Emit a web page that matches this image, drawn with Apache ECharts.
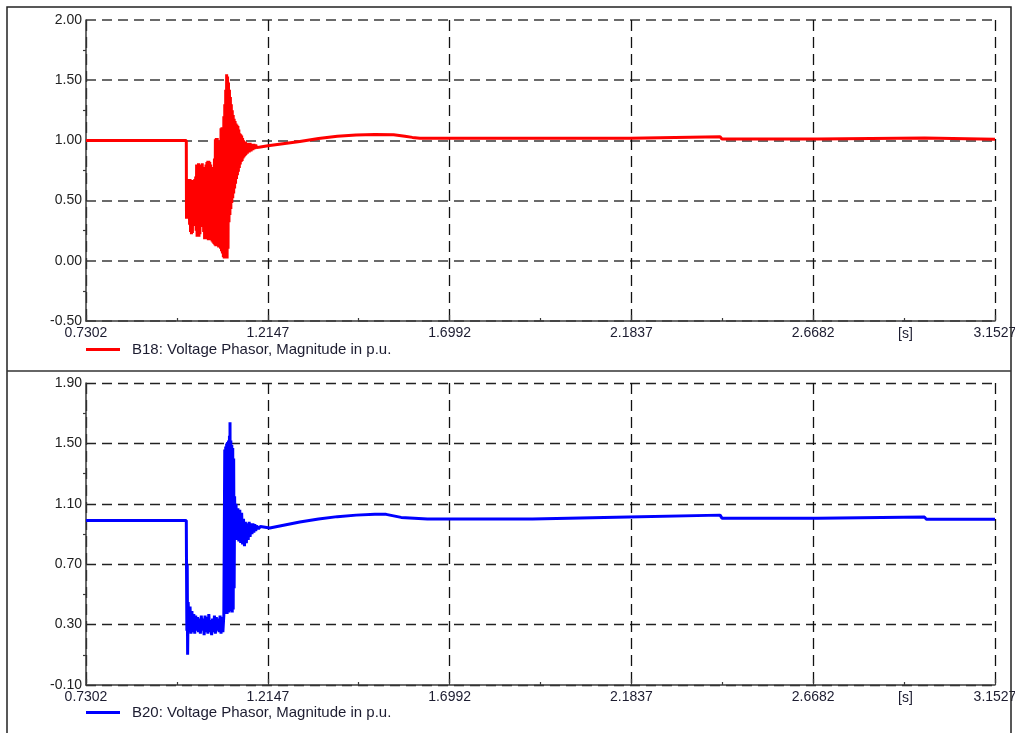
<!DOCTYPE html>
<html>
<head>
<meta charset="utf-8">
<script src="https://cdn.jsdelivr.net/npm/echarts@6/dist/echarts.min.js"></script>
<style>
  html, body { margin: 0; padding: 0; background: #ffffff; }
  #chart { width: 1015px; height: 733px; }
</style>
</head>
<body>
<div id="chart"></div>
<script>
// Time axis ticks [s] shared by both panels
const timeTicks = [0.7302, 1.2147, 1.6992, 2.1837, 2.6682, 3.1527];
// Voltage axis ticks [p.u.]
const b18Ticks = [-0.50, 0.00, 0.50, 1.00, 1.50, 2.00];
const b20Ticks = [-0.10, 0.30, 0.70, 1.10, 1.50, 1.90];

const b18Name = 'B18: Voltage Phasor, Magnitude in p.u.';
const b20Name = 'B20: Voltage Phasor, Magnitude in p.u.';

// B18 voltage magnitude: [time s, p.u.]
const b18 = [
  [0.7302, 1.00], [0.9975, 1.00],
  [0.9980, 0.35],
  [1.00000, 0.68], [1.00125, 0.40], [1.00250, 0.68], [1.00375, 0.35], [1.00500, 0.67],
  [1.00625, 0.30], [1.00750, 0.68], [1.00875, 0.24], [1.01000, 0.67], [1.01125, 0.22],
  [1.01250, 0.66], [1.01375, 0.23], [1.01500, 0.66], [1.01625, 0.30], [1.01750, 0.67],
  [1.01875, 0.31], [1.02000, 0.68], [1.02125, 0.29], [1.02250, 0.70], [1.02375, 0.25],
  [1.02500, 0.80], [1.02625, 0.20], [1.02750, 0.80], [1.02875, 0.21], [1.03000, 0.81],
  [1.03125, 0.20], [1.03250, 0.80], [1.03375, 0.22], [1.03500, 0.79], [1.03625, 0.29],
  [1.03750, 0.80], [1.03875, 0.30], [1.04000, 0.81], [1.04125, 0.28], [1.04250, 0.78],
  [1.04375, 0.24], [1.04500, 0.74], [1.04625, 0.18], [1.04750, 0.75], [1.04875, 0.18],
  [1.05000, 0.80], [1.05125, 0.19], [1.05250, 0.82], [1.05375, 0.18], [1.05500, 0.83],
  [1.05625, 0.17], [1.05750, 0.83], [1.05875, 0.17], [1.06000, 0.82], [1.06125, 0.17],
  [1.06250, 0.80], [1.06375, 0.17], [1.06500, 0.76], [1.06625, 0.16], [1.06750, 0.75],
  [1.06875, 0.15], [1.07000, 0.78], [1.07125, 0.14], [1.07250, 0.85], [1.07375, 0.13],
  [1.07500, 1.01], [1.07625, 0.12], [1.07750, 1.02], [1.07875, 0.12], [1.08000, 1.02],
  [1.08125, 0.12], [1.08250, 0.98], [1.08375, 0.11], [1.08500, 0.96], [1.08625, 0.11],
  [1.08750, 1.00], [1.08875, 0.10], [1.09000, 1.10], [1.09125, 0.08], [1.09250, 1.11],
  [1.09375, 0.06], [1.09500, 1.11], [1.09625, 0.03], [1.09750, 1.20], [1.09875, 0.02],
  [1.10000, 1.30], [1.10125, 0.02], [1.10250, 1.42], [1.10375, 0.02], [1.10500, 1.55],
  [1.10625, 0.02], [1.10750, 1.53], [1.10875, 0.10], [1.11000, 1.48], [1.11125, 0.32],
  [1.11250, 1.42], [1.11375, 0.38], [1.11500, 1.36], [1.11625, 0.43], [1.11750, 1.30],
  [1.11875, 0.48], [1.12000, 1.25], [1.12125, 0.52], [1.12250, 1.21], [1.12375, 0.56],
  [1.12500, 1.18], [1.12625, 0.60], [1.12750, 1.16], [1.12875, 0.64], [1.13000, 1.14],
  [1.13125, 0.68], [1.13250, 1.13], [1.13375, 0.71], [1.13500, 1.12], [1.13625, 0.74],
  [1.13750, 1.09], [1.13875, 0.77], [1.14000, 1.06], [1.14125, 0.80], [1.14250, 1.05],
  [1.14375, 0.82], [1.14500, 1.04], [1.14625, 0.83], [1.14750, 1.02], [1.14875, 0.85],
  [1.15000, 1.00], [1.15125, 0.86], [1.15250, 0.99], [1.15375, 0.87], [1.15500, 0.99],
  [1.15625, 0.88], [1.15750, 0.98], [1.16000, 0.89], [1.16250, 0.98], [1.16500, 0.90],
  [1.16750, 0.98], [1.17000, 0.91], [1.17250, 0.97], [1.17500, 0.92], [1.17750, 0.97],
  [1.18000, 0.93], [1.18250, 0.965], [1.18500, 0.94], [1.19000, 0.955], [1.19500, 0.945],
  [1.2000, 0.95],
  [1.2150, 0.955], [1.2500, 0.97], [1.3000, 0.99], [1.3500, 1.015], [1.4000, 1.035],
  [1.4500, 1.045], [1.5000, 1.05], [1.5500, 1.047], [1.5800, 1.035], [1.6000, 1.025],
  [1.6200, 1.018], [2.1800, 1.018], [2.1850, 1.03], [2.4200, 1.03], [2.4250, 1.012],
  [2.6800, 1.012], [2.6850, 1.02], [2.9650, 1.02], [2.9700, 1.01], [3.1527, 1.01]
];

// B20 voltage magnitude: [time s, p.u.]
const b20 = [
  [0.7302, 0.99], [0.9975, 0.99],
  [0.9980, 0.72], [0.9990, 0.26], [1.0000, 0.70], [1.0010, 0.10], [1.0025, 0.45],
  [1.0050, 0.25], [1.0075, 0.42], [1.0100, 0.24], [1.0125, 0.39], [1.0150, 0.25],
  [1.0175, 0.37], [1.0200, 0.24], [1.0225, 0.36], [1.0250, 0.26], [1.0275, 0.35],
  [1.0300, 0.25], [1.0325, 0.34], [1.0350, 0.24], [1.0375, 0.36], [1.0400, 0.26],
  [1.0425, 0.34], [1.0450, 0.23], [1.0475, 0.36], [1.0500, 0.25], [1.0525, 0.35],
  [1.0550, 0.24], [1.0575, 0.37], [1.0600, 0.25], [1.0625, 0.33], [1.0650, 0.23],
  [1.0675, 0.34], [1.0700, 0.25], [1.0725, 0.36], [1.0750, 0.24], [1.0775, 0.35],
  [1.0800, 0.26], [1.0825, 0.34], [1.0850, 0.25], [1.0875, 0.36], [1.0900, 0.24],
  [1.0925, 0.35], [1.0950, 0.25], [1.0975, 0.36],
  [1.09875, 0.36], [1.10000, 1.46], [1.10125, 0.37], [1.10250, 1.48], [1.10375, 0.38],
  [1.10500, 1.50], [1.10625, 0.37], [1.10750, 1.51], [1.10875, 0.38], [1.11000, 1.52],
  [1.11125, 0.38], [1.11250, 1.55], [1.11375, 0.39], [1.11400, 1.64], [1.11500, 0.40],
  [1.11625, 1.52], [1.11750, 0.39], [1.11875, 1.49], [1.12000, 0.38], [1.12125, 1.47],
  [1.12250, 0.40], [1.12375, 1.40], [1.12500, 0.54], [1.12625, 1.15], [1.12750, 0.92],
  [1.1300, 1.10], [1.1325, 0.86], [1.1350, 1.07], [1.1375, 0.85], [1.1400, 1.06],
  [1.1425, 0.84], [1.1450, 1.04], [1.1475, 0.83], [1.1500, 1.00], [1.1525, 0.82],
  [1.1550, 0.98], [1.1575, 0.84], [1.1600, 0.97], [1.1625, 0.86], [1.1650, 0.98],
  [1.1675, 0.88], [1.1700, 0.97], [1.1725, 0.90], [1.1750, 0.97], [1.1775, 0.91],
  [1.1800, 0.965], [1.1825, 0.92], [1.1850, 0.955], [1.1900, 0.935], [1.1950, 0.95],
  [1.2000, 0.94],
  [1.2200, 0.94], [1.2500, 0.955], [1.3000, 0.98], [1.3500, 1.00], [1.4000, 1.015],
  [1.4500, 1.025], [1.5000, 1.03], [1.5300, 1.03], [1.5700, 1.01], [1.6400, 1.00],
  [1.9200, 1.00], [1.9250, 1.013], [2.1750, 1.013], [2.1800, 1.025], [2.4200, 1.025],
  [2.4250, 1.005], [2.6800, 1.005], [2.6850, 1.012], [2.9650, 1.012], [2.9700, 0.997],
  [3.1527, 0.997]
];

const FONT = 'Liberation Sans, Arial, sans-serif';
const step = (t) => Math.round((t[1] - t[0]) * 1e4) / 1e4;

function timeAxis(gridIndex) {
  return {
    type: 'value',
    gridIndex: gridIndex,
    min: timeTicks[0],
    max: timeTicks[timeTicks.length - 1],
    interval: step(timeTicks),
    name: '[s]',
    nameLocation: 'end',
    nameGap: -97,
    nameMoveOverlap: false,
    nameTextStyle: { color: '#1c1c30', fontFamily: FONT, fontSize: 14, verticalAlign: 'top', padding: [6, 0, 0, 0] },
    axisLine: { show: true, onZero: false, lineStyle: { color: '#3a3a3a', width: 1.5 } },
    axisTick: { show: true, inside: true, length: 6, lineStyle: { color: '#3a3a3a', width: 1.2 } },
    minorTick: { show: true, splitNumber: 2, length: 3, lineStyle: { color: '#3a3a3a', width: 1.2 } },
    axisLabel: {
      show: true, margin: 5, color: '#1c1c30', fontFamily: FONT, fontSize: 14,
      showMinLabel: true, showMaxLabel: true, hideOverlap: false,
      formatter: (v) => v.toFixed(4)
    },
    splitLine: { show: true, lineStyle: { color: '#111111', width: 1.3, type: [11, 6] } },
    minorSplitLine: { show: false }
  };
}

function voltAxis(gridIndex, ticks, gridColor, gridWidth) {
  return {
    type: 'value',
    gridIndex: gridIndex,
    min: ticks[0],
    max: ticks[ticks.length - 1],
    interval: Math.round((ticks[1] - ticks[0]) * 100) / 100,
    axisLine: { show: true, onZero: false, lineStyle: { color: '#3a3a3a', width: 1.5 } },
    axisTick: { show: false },
    minorTick: { show: true, splitNumber: 2, length: 3, lineStyle: { color: '#3a3a3a', width: 1.2 } },
    axisLabel: {
      show: true, margin: 4, color: '#222222', fontFamily: FONT, fontSize: 14,
      showMinLabel: true, showMaxLabel: true,
      formatter: (v) => v.toFixed(2)
    },
    splitLine: { show: true, lineStyle: { color: gridColor, width: gridWidth, type: [10, 6] } },
    minorSplitLine: { show: false }
  };
}

function legendFor(name, top) {
  return {
    data: [name],
    left: 86,
    top: top,
    orient: 'horizontal',
    icon: 'rect',
    itemWidth: 34,
    itemHeight: 3,
    padding: 0,
    selectedMode: false,
    textStyle: { color: '#1c1c30', fontFamily: FONT, fontSize: 15, padding: [0, 0, 0, 7] }
  };
}

const chart = echarts.init(document.getElementById('chart'), null, { renderer: 'canvas' });
chart.setOption({
  animation: false,
  backgroundColor: '#ffffff',
  grid: [
    { left: 86, right: 20, top: 20, height: 301, containLabel: false, outerBoundsMode: 'none' },
    { left: 86, right: 20, top: 383, height: 302, containLabel: false, outerBoundsMode: 'none' }
  ],
  xAxis: [timeAxis(0), timeAxis(1)],
  yAxis: [
    voltAxis(0, b18Ticks, '#6a6a6a', 1.8),
    voltAxis(1, b20Ticks, '#222222', 1.3)
  ],
  legend: [legendFor(b18Name, 342), legendFor(b20Name, 705)],
  series: [
    {
      name: b18Name, type: 'line', xAxisIndex: 0, yAxisIndex: 0,
      data: b18, showSymbol: false, symbol: 'none', sampling: null,
      lineStyle: { color: '#ff0000', width: 3, join: 'bevel' },
      itemStyle: { color: '#ff0000' },
      z: 5
    },
    {
      name: b20Name, type: 'line', xAxisIndex: 1, yAxisIndex: 1,
      data: b20, showSymbol: false, symbol: 'none', sampling: null,
      lineStyle: { color: '#0000ff', width: 3, join: 'bevel' },
      itemStyle: { color: '#0000ff' },
      z: 5
    }
  ],
  graphic: [
    {
      type: 'rect', silent: true, z: 100,
      shape: { x: 7, y: 7, width: 1004, height: 740 },
      style: { fill: 'none', stroke: '#222222', lineWidth: 1.5 }
    },
    {
      type: 'line', silent: true, z: 100,
      shape: { x1: 7, y1: 371, x2: 1011, y2: 371 },
      style: { stroke: '#333333', lineWidth: 1.5 }
    }
  ]
});
</script>
</body>
</html>
